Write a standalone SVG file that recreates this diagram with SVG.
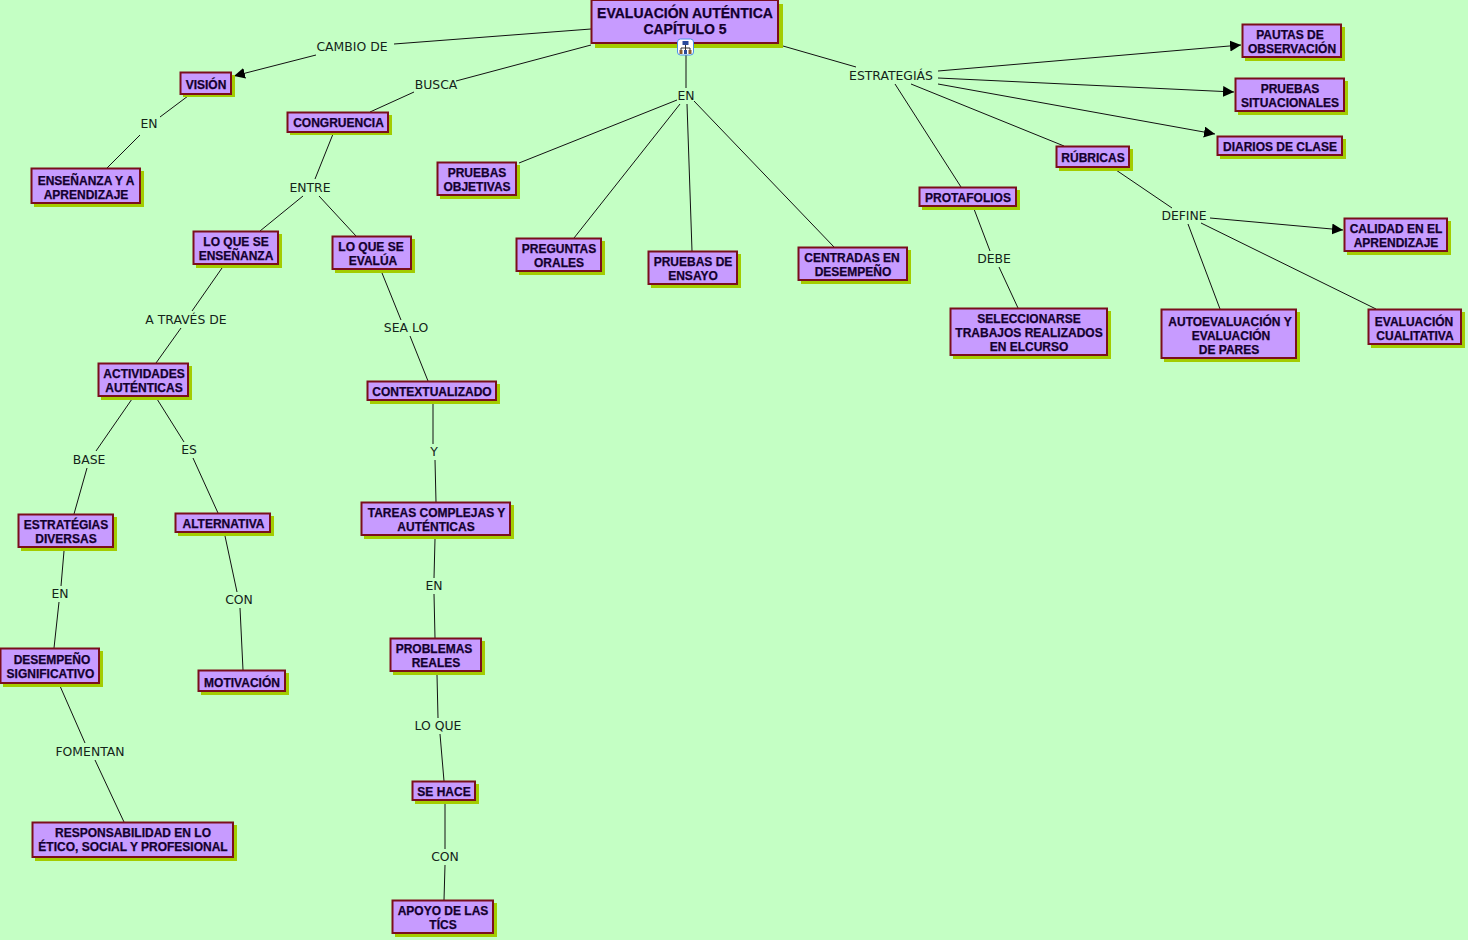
<svg xmlns="http://www.w3.org/2000/svg" width="1468" height="940" viewBox="0 0 1468 940">
<style>
.bg{fill:#c4ffc4}
.s{fill:#a3cc00}
.b{fill:#c79bff;stroke:#7a0f1c;stroke-width:2}
.t{font:bold 12px "Liberation Sans",Arial,sans-serif;fill:#14002e;text-anchor:middle;stroke:#14002e;stroke-width:.25}
.m{font-size:14px}
.l{font:12.4px "DejaVu Sans",Verdana,sans-serif;fill:#14241a;text-anchor:middle}
#connectors line{stroke:#111;stroke-width:1}
.a{stroke:#111;stroke-width:1;marker-end:url(#arr)}
</style>
<defs>
<marker id="arr" markerUnits="userSpaceOnUse" markerWidth="12" markerHeight="12" refX="11" refY="5.5" orient="auto"><path d="M0 0L11 5.5L0 11z" fill="#000"/></marker>
</defs>
<rect class="bg" width="1468" height="940"/>
<g id="connectors">
<line x1="591" y1="29" x2="394" y2="44"/><line class="a" x1="316" y1="55" x2="234" y2="76"/>
<line x1="591" y1="45" x2="456" y2="81"/><line x1="414" y1="92" x2="370" y2="112"/>
<line x1="686" y1="55" x2="686" y2="88"/>
<line x1="783" y1="46" x2="856" y2="67"/>
<line x1="188" y1="96" x2="160" y2="117"/><line x1="140" y1="135" x2="107" y2="168"/>
<line x1="333" y1="134" x2="315" y2="179"/><line x1="303" y1="196" x2="260" y2="231"/><line x1="319" y1="196" x2="356" y2="236"/>
<line x1="677" y1="100" x2="519" y2="163"/><line x1="680" y1="104" x2="574" y2="238"/><line x1="687" y1="104" x2="692" y2="251"/><line x1="694" y1="101" x2="834" y2="247"/>
<line class="a" x1="938" y1="71" x2="1241" y2="45"/><line class="a" x1="938" y1="78" x2="1234" y2="92"/><line class="a" x1="938" y1="84" x2="1215" y2="134"/>
<line x1="911" y1="84" x2="1064" y2="146"/><line x1="895" y1="84" x2="961" y2="187"/>
<line x1="974" y1="209" x2="990" y2="251"/><line x1="999" y1="267" x2="1018" y2="308"/>
<line x1="1116" y1="170" x2="1172" y2="208"/><line class="a" x1="1210" y1="218" x2="1343" y2="230"/><line x1="1188" y1="224" x2="1220" y2="309"/><line x1="1201" y1="223" x2="1376" y2="309"/>
<line x1="222" y1="268" x2="192" y2="311"/><line x1="181" y1="328" x2="156" y2="363"/>
<line x1="382" y1="273" x2="401" y2="320"/><line x1="410" y1="336" x2="428" y2="381"/>
<line x1="132" y1="399" x2="96" y2="451"/><line x1="87" y1="468" x2="74" y2="514"/>
<line x1="157" y1="399" x2="184" y2="442"/><line x1="193" y1="458" x2="218" y2="513"/>
<line x1="64" y1="551" x2="61" y2="586"/><line x1="59" y1="602" x2="54" y2="648"/>
<line x1="225" y1="536" x2="237" y2="592"/><line x1="240" y1="608" x2="243" y2="670"/>
<line x1="60" y1="686" x2="85" y2="743"/><line x1="95" y1="760" x2="124" y2="822"/>
<line x1="433" y1="403" x2="433" y2="444"/><line x1="435" y1="460" x2="436" y2="502"/>
<line x1="435" y1="539" x2="434" y2="578"/><line x1="434" y1="594" x2="435" y2="638"/>
<line x1="437" y1="675" x2="438" y2="718"/><line x1="440" y1="734" x2="444" y2="781"/>
<line x1="445" y1="804" x2="445" y2="849"/><line x1="445" y1="865" x2="444" y2="900"/>
</g>
<g id="linklabels">
<text class="l" x="352" y="51">CAMBIO DE</text><text class="l" x="436" y="89">BUSCA</text><text class="l" x="686" y="100">EN</text><text class="l" x="891" y="80">ESTRATEGIÁS</text>
<text class="l" x="149" y="128">EN</text><text class="l" x="310" y="192">ENTRE</text><text class="l" x="186" y="324">A TRAVÉS DE</text><text class="l" x="406" y="332">SEA LO</text>
<text class="l" x="994" y="263">DEBE</text><text class="l" x="1184" y="220">DEFINE</text><text class="l" x="89" y="464">BASE</text><text class="l" x="189" y="454">ES</text>
<text class="l" x="434" y="456">Y</text><text class="l" x="60" y="598">EN</text><text class="l" x="239" y="604">CON</text><text class="l" x="434" y="590">EN</text>
<text class="l" x="438" y="730">LO QUE</text><text class="l" x="90" y="756">FOMENTAN</text><text class="l" x="445" y="861">CON</text>
</g>
<g id="n-main"><rect class="s" x="595" y="4" width="188" height="44"/><rect class="b" x="591.500" y="0" width="186.500" height="43"/><text class="t m" x="685" y="18">EVALUACIÓN AUTÉNTICA</text><text class="t m" x="685" y="34">CAPÍTULO 5</text></g>
<g id="n-icon"><rect x="677.500" y="39" width="16" height="16" rx="3" fill="#fff" stroke="#4a90e8"/><rect x="682.500" y="41" width="6" height="4" fill="#2a4a9a"/><path d="M685.500 45V48M681 50V48H690V50M685.500 48V50" fill="none" stroke="#333"/><rect x="679.500" y="50" width="3" height="4" fill="#8a5a2a"/><rect x="684" y="50" width="3" height="4" fill="#2a4a9a"/><rect x="688.500" y="50" width="3" height="4" fill="#8a5a2a"/></g>
<g id="n-vision"><rect class="s" x="183" y="75" width="52" height="22"/><rect class="b" x="180.500" y="72.500" width="50.500" height="21.500"/><text class="t" x="206" y="89">VISIÓN</text></g>
<g id="n-congruencia"><rect class="s" x="290" y="115" width="102" height="20"/><rect class="b" x="287.500" y="112.500" width="100.500" height="19.500"/><text class="t" x="338.500" y="127">CONGRUENCIA</text></g>
<g id="n-ensenanza"><rect class="s" x="34" y="171" width="110" height="36"/><rect class="b" x="31.500" y="168.500" width="108.500" height="34.500"/><text class="t" x="86" y="185">ENSEÑANZA Y A</text><text class="t" x="86" y="199">APRENDIZAJE</text></g>
<g id="n-loque1"><rect class="s" x="196" y="234" width="86" height="34"/><rect class="b" x="193.500" y="231.500" width="84.500" height="32.500"/><text class="t" x="236" y="246">LO QUE SE</text><text class="t" x="236" y="260">ENSEÑANZA</text></g>
<g id="n-loque2"><rect class="s" x="335" y="239" width="80" height="34"/><rect class="b" x="332.500" y="236.500" width="78.500" height="32.500"/><text class="t" x="371" y="251">LO QUE SE</text><text class="t" x="373" y="265">EVALÚA</text></g>
<g id="n-objetivas"><rect class="s" x="440" y="165" width="80" height="34"/><rect class="b" x="437.500" y="162.500" width="78.500" height="32.500"/><text class="t" x="477" y="177">PRUEBAS</text><text class="t" x="477" y="191">OBJETIVAS</text></g>
<g id="n-orales"><rect class="s" x="519" y="241" width="86" height="34"/><rect class="b" x="516.500" y="238.500" width="84.500" height="32.500"/><text class="t" x="559" y="253">PREGUNTAS</text><text class="t" x="559" y="267">ORALES</text></g>
<g id="n-ensayo"><rect class="s" x="651" y="254" width="90" height="34"/><rect class="b" x="648.500" y="251.500" width="88.500" height="32.500"/><text class="t" x="693" y="266">PRUEBAS DE</text><text class="t" x="693" y="280">ENSAYO</text></g>
<g id="n-centradas"><rect class="s" x="801" y="250" width="110" height="34"/><rect class="b" x="798.500" y="247.500" width="108.500" height="32.500"/><text class="t" x="852" y="262">CENTRADAS EN</text><text class="t" x="853" y="276">DESEMPEÑO</text></g>
<g id="n-protafolios"><rect class="s" x="922" y="190" width="98" height="20"/><rect class="b" x="919.500" y="187.500" width="96.500" height="18.500"/><text class="t" x="968" y="202">PROTAFOLIOS</text></g>
<g id="n-rubricas"><rect class="s" x="1059" y="149" width="74" height="22"/><rect class="b" x="1056.500" y="146.500" width="72.500" height="20.500"/><text class="t" x="1093" y="162">RÚBRICAS</text></g>
<g id="n-pautas"><rect class="s" x="1245" y="27" width="100" height="34"/><rect class="b" x="1242.500" y="24.500" width="98.500" height="32.500"/><text class="t" x="1290" y="39">PAUTAS DE</text><text class="t" x="1292" y="53">OBSERVACIÓN</text></g>
<g id="n-situacionales"><rect class="s" x="1238" y="81" width="110" height="34"/><rect class="b" x="1235.500" y="78.500" width="108.500" height="32.500"/><text class="t" x="1290" y="93">PRUEBAS</text><text class="t" x="1290" y="107">SITUACIONALES</text></g>
<g id="n-diarios"><rect class="s" x="1220" y="139" width="126" height="20"/><rect class="b" x="1217.500" y="136.500" width="124.500" height="18.500"/><text class="t" x="1280" y="151">DIARIOS DE CLASE</text></g>
<g id="n-calidad"><rect class="s" x="1347" y="221" width="104" height="34"/><rect class="b" x="1344.500" y="218.500" width="102.500" height="32.500"/><text class="t" x="1396" y="233">CALIDAD EN EL</text><text class="t" x="1396" y="247">APRENDIZAJE</text></g>
<g id="n-seleccionarse"><rect class="s" x="953" y="311" width="158" height="48"/><rect class="b" x="950.500" y="308.500" width="156.500" height="46.500"/><text class="t" x="1029" y="323">SELECCIONARSE</text><text class="t" x="1029" y="337">TRABAJOS REALIZADOS</text><text class="t" x="1029" y="351">EN ELCURSO</text></g>
<g id="n-autoevaluacion"><rect class="s" x="1164" y="312" width="136" height="50"/><rect class="b" x="1161.500" y="309.500" width="134.500" height="48.500"/><text class="t" x="1230" y="326">AUTOEVALUACIÓN Y</text><text class="t" x="1231" y="340">EVALUACIÓN</text><text class="t" x="1229" y="354">DE PARES</text></g>
<g id="n-cualitativa"><rect class="s" x="1371" y="312" width="94" height="36"/><rect class="b" x="1368.500" y="309.500" width="92.500" height="34.500"/><text class="t" x="1414" y="326">EVALUACIÓN</text><text class="t" x="1415" y="340">CUALITATIVA</text></g>
<g id="n-actividades"><rect class="s" x="101" y="366" width="91" height="34"/><rect class="b" x="98.500" y="363.500" width="89.500" height="32.500"/><text class="t" x="144" y="378">ACTIVIDADES</text><text class="t" x="144" y="392">AUTÉNTICAS</text></g>
<g id="n-estrategias"><rect class="s" x="21" y="517" width="96" height="34"/><rect class="b" x="18.500" y="514.500" width="94.500" height="32.500"/><text class="t" x="66" y="529">ESTRATÉGIAS</text><text class="t" x="66" y="543">DIVERSAS</text></g>
<g id="n-alternativa"><rect class="s" x="178" y="516" width="96" height="20"/><rect class="b" x="175.500" y="513.500" width="94.500" height="18.500"/><text class="t" x="223.500" y="528">ALTERNATIVA</text></g>
<g id="n-desempeno"><rect class="s" x="3" y="651" width="100" height="36"/><rect class="b" x="0.500" y="648.500" width="98.500" height="34.500"/><text class="t" x="52" y="664">DESEMPEÑO</text><text class="t" x="50.500" y="678">SIGNIFICATIVO</text></g>
<g id="n-motivacion"><rect class="s" x="201" y="673" width="88" height="22"/><rect class="b" x="198.500" y="670.500" width="86.500" height="20.500"/><text class="t" x="242" y="687">MOTIVACIÓN</text></g>
<g id="n-responsabilidad"><rect class="s" x="35" y="825" width="202" height="36"/><rect class="b" x="32.500" y="822.500" width="200.500" height="34.500"/><text class="t" x="133" y="837">RESPONSABILIDAD EN LO</text><text class="t" x="133" y="851">ÉTICO, SOCIAL Y PROFESIONAL</text></g>
<g id="n-contextualizado"><rect class="s" x="370" y="384" width="130" height="20"/><rect class="b" x="367.500" y="381.500" width="128.500" height="18.500"/><text class="t" x="432" y="396">CONTEXTUALIZADO</text></g>
<g id="n-tareas"><rect class="s" x="364" y="505" width="150" height="34"/><rect class="b" x="361.500" y="502.500" width="148.500" height="32.500"/><text class="t" x="436.500" y="517">TAREAS COMPLEJAS Y</text><text class="t" x="436" y="531">AUTÉNTICAS</text></g>
<g id="n-problemas"><rect class="s" x="393" y="641" width="92" height="34"/><rect class="b" x="390.500" y="638.500" width="90.500" height="32.500"/><text class="t" x="434" y="653">PROBLEMAS</text><text class="t" x="436" y="667">REALES</text></g>
<g id="n-sehace"><rect class="s" x="415" y="784" width="64" height="20"/><rect class="b" x="412.500" y="781.500" width="62.500" height="18.500"/><text class="t" x="444" y="796">SE HACE</text></g>
<g id="n-apoyo"><rect class="s" x="395" y="903" width="102" height="34"/><rect class="b" x="392.500" y="900.500" width="100.500" height="32.500"/><text class="t" x="443" y="915">APOYO DE LAS</text><text class="t" x="443" y="929">TÍCS</text></g>
</svg>
